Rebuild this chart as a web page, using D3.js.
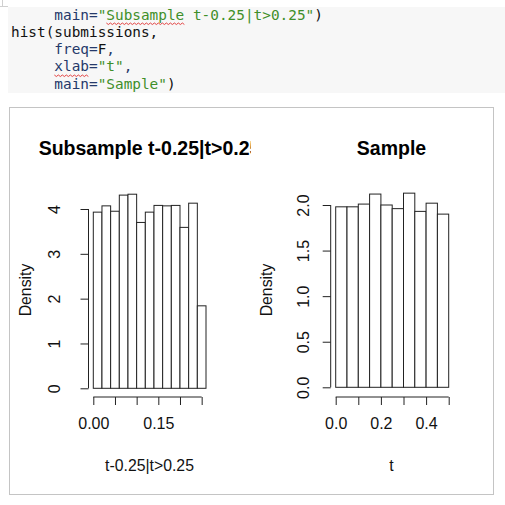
<!DOCTYPE html>
<html>
<head>
<meta charset="utf-8">
<script src="https://cdn.jsdelivr.net/npm/d3@7"></script>
<style>
  body { margin: 0; background: #fff; }
  svg { display: block; }
  .code { font-family: "DejaVu Sans Mono", monospace; font-size: 14.4px; white-space: pre; }
  .rtext { font-family: "Liberation Sans", Arial, sans-serif; }
</style>
</head>
<body>
<script>
// Histogram data (densities per bin)
var subBreaks = [0, 0.02, 0.04, 0.06, 0.08, 0.10, 0.12, 0.14, 0.16, 0.18, 0.20, 0.22, 0.24, 0.26];
var subDensity = [3.93, 4.07, 3.95, 4.31, 4.33, 3.70, 3.93, 4.08, 4.07, 4.08, 3.59, 4.13, 1.84];
var subXTicks = [0, 0.05, 0.10, 0.15, 0.20, 0.25];
var subXLabels = ["0.00", "", "", "0.15", "", ""];
var subYTicks = [0, 1, 2, 3, 4];

var sampleBreaks = [0, 0.05, 0.10, 0.15, 0.20, 0.25, 0.30, 0.35, 0.40, 0.45, 0.50];
var sampleDensity = [1.98, 1.98, 2.01, 2.12, 2.00, 1.96, 2.13, 1.93, 2.02, 1.90];
var sampleXTicks = [0, 0.1, 0.2, 0.3, 0.4, 0.5];
var sampleXLabels = ["0.0", "", "0.2", "", "0.4", ""];
var sampleYTicks = [0, 0.5, 1.0, 1.5, 2.0];
var sampleYLabels = ["0.0", "0.5", "1.0", "1.5", "2.0"];

// Code cell lines: each is a list of [text, kind]
var codeLines = [
  [["     main=", "arg"], ["\"Subsample t-0.25|t>0.25\"", "str"], [")", "plain"]],
  [["hist(submissions,", "plain"]],
  [["     freq=", "arg"], ["F", "plain"], [",", "arg"]],
  [["     xlab=", "arg"], ["\"t\"", "str"], [",", "arg"]],
  [["     main=", "arg"], ["\"Sample\"", "str"], [")", "plain"]]
];
var codeColors = { arg: "#25396a", str: "#3f8f2a", plain: "#111" };

var svgWidth = 505;
var svgHeight = 505;

var svg = d3.select("body")
  .append("svg")
  .attr("width", svgWidth)
  .attr("height", svgHeight);

// ---- code cell ----
svg.append("rect")
  .attr("x", 8).attr("y", 7)
  .attr("width", 497).attr("height", 86)
  .attr("fill", "#f7f7f7");
svg.append("path")
  .attr("d", "M2.5,0V7M0,6.5H8")
  .attr("stroke", "#d0d0d0")
  .attr("fill", "none");

var charW = 8.67;
codeLines.forEach(function(line, i) {
  var t = svg.append("text")
    .attr("class", "code")
    .attr("x", 11)
    .attr("y", 19.5 + i * 17.3);
  line.forEach(function(part) {
    t.append("tspan")
      .attr("fill", codeColors[part[1]])
      .text(part[0]);
  });
});

// spell-check squiggles under "Subsample" and "xlab"
function squiggle(x0, x1, y) {
  var pts = [];
  for (var x = x0, k = 0; x <= x1; x += 2, k++) pts.push([x, y + (k % 2 ? 1.5 : 0)]);
  svg.append("path")
    .attr("d", d3.line()(pts))
    .attr("stroke", "#e03030")
    .attr("stroke-width", 0.9)
    .attr("fill", "none");
}
squiggle(11 + 11 * charW, 11 + 20 * charW, 23);
squiggle(11 + 5 * charW, 11 + 9 * charW, 75);

// ---- plot image frame ----
svg.append("rect")
  .attr("x", 9.5).attr("y", 107.5)
  .attr("width", 484).attr("height", 387)
  .attr("fill", "#fff")
  .attr("stroke", "#c4c4c4");

svg.append("defs").append("clipPath")
  .attr("id", "leftFig")
  .append("rect")
  .attr("x", 10).attr("y", 108).attr("width", 241).attr("height", 386);

function drawHist(opt) {
  var g = svg.append("g").attr("class", "rtext");

  var x = d3.scaleLinear()
    .domain([opt.breaks[0], opt.breaks[opt.breaks.length - 1]])
    .range(opt.xRange);
  var y = d3.scaleLinear()
    .domain([0, opt.yTicks[opt.yTicks.length - 1]])
    .range(opt.yRange);

  // bars
  g.selectAll("rect.bar")
    .data(opt.density)
    .enter().append("rect")
    .attr("class", "bar")
    .attr("x", (d, i) => x(opt.breaks[i]))
    .attr("width", (d, i) => x(opt.breaks[i + 1]) - x(opt.breaks[i]))
    .attr("y", d => y(d))
    .attr("height", d => y(0) - y(d))
    .attr("fill", "#fff")
    .attr("stroke", "#222")
    .attr("stroke-width", 1);

  // x axis
  var xAxis = d3.axisBottom(x)
    .tickValues(opt.xTicks)
    .tickSize(8)
    .tickPadding(13)
    .tickFormat((d, i) => opt.xLabels[i]);
  var gx = g.append("g")
    .attr("transform", `translate(0, ${opt.axisY})`)
    .call(xAxis);
  gx.select(".domain").remove();
  gx.append("line")
    .attr("x1", x(opt.xTicks[0])).attr("x2", x(opt.xTicks[opt.xTicks.length - 1]))
    .attr("stroke", "#222");
  gx.selectAll(".tick line").attr("stroke", "#222");
  gx.selectAll(".tick text")
    .attr("fill", "#111")
    .style("font-size", "16px")
    .style("font-family", "Liberation Sans, Arial, sans-serif");

  // y axis
  var yAxis = d3.axisLeft(y)
    .tickValues(opt.yTicks)
    .tickSize(8)
    .tickFormat((d, i) => opt.yLabels ? opt.yLabels[i] : d);
  var gy = g.append("g")
    .attr("transform", `translate(${opt.axisX}, 0)`)
    .call(yAxis);
  gy.select(".domain").remove();
  gy.append("line")
    .attr("y1", y(opt.yTicks[0])).attr("y2", y(opt.yTicks[opt.yTicks.length - 1]))
    .attr("stroke", "#222");
  gy.selectAll(".tick line").attr("stroke", "#222");
  gy.selectAll(".tick text")
    .attr("x", null).attr("dy", null)
    .attr("text-anchor", "middle")
    .attr("transform", `translate(${opt.yLabelX - opt.axisX}, 0) rotate(-90)`)
    .attr("dy", "0.35em")
    .attr("fill", "#111")
    .style("font-size", "16px")
    .style("font-family", "Liberation Sans, Arial, sans-serif");

  // title
  var title = g.append("text")
    .attr("x", opt.titleX).attr("y", 148)
    .attr("dy", "0.35em")
    .attr("text-anchor", "middle")
    .style("font-size", "19.5px")
    .style("font-weight", "bold")
    .attr("fill", "#000")
    .text(opt.title);
  if (opt.clip) title.attr("clip-path", "url(#" + opt.clip + ")");

  // axis labels
  g.append("text")
    .attr("x", opt.titleX).attr("y", 465)
    .attr("dy", "0.35em")
    .attr("text-anchor", "middle")
    .style("font-size", "15.8px")
    .attr("fill", "#111")
    .text(opt.xlab);
  g.append("text")
    .attr("transform", `translate(${opt.densityX}, 290) rotate(-90)`)
    .attr("dy", "0.35em")
    .attr("text-anchor", "middle")
    .style("font-size", "15.8px")
    .attr("fill", "#111")
    .text("Density");
}

drawHist({
  breaks: subBreaks, density: subDensity,
  xTicks: subXTicks, xLabels: subXLabels, yTicks: subYTicks,
  xRange: [93.3, 206.0], yRange: [388.3, 209],
  axisY: 397, axisX: 88.5, yLabelX: 54, densityX: 25,
  titleX: 149.5, title: "Subsample t-0.25|t>0.25", clip: "leftFig",
  xlab: "t-0.25|t>0.25"
});

drawHist({
  breaks: sampleBreaks, density: sampleDensity,
  xTicks: sampleXTicks, xLabels: sampleXLabels,
  yTicks: sampleYTicks, yLabels: sampleYLabels,
  xRange: [335.7, 448.7], yRange: [387.3, 205],
  axisY: 397, axisX: 330.7, yLabelX: 303, densityX: 266,
  titleX: 391.5, title: "Sample",
  xlab: "t"
});
</script>
</body>
</html>
